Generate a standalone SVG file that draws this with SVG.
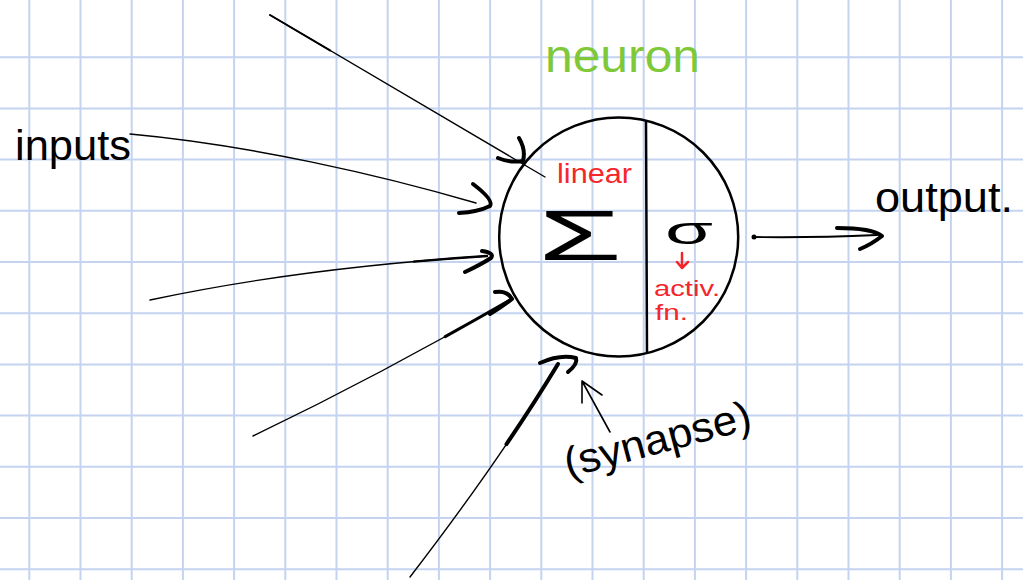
<svg xmlns="http://www.w3.org/2000/svg" width="1023" height="580" viewBox="0 0 1023 580">
<style>
.grid{stroke:#c4d3ef;stroke-width:2;fill:none}
.ln{stroke:#000;fill:none;stroke-linecap:round;stroke-linejoin:round}
.thin{stroke-width:1.4}
.thick{stroke-width:3}
.head{stroke-width:4}
.txt{font-family:"Liberation Sans",Arial,sans-serif;fill:#000}
.red{fill:#f5262b}
.green{fill:#7fc83a}
</style>
<rect width="1023" height="580" fill="#ffffff"/>
<path class="grid" d="M29.3 0V580M80.5 0V580M131.7 0V580M182.9 0V580M234.1 0V580M285.3 0V580M336.5 0V580M387.7 0V580M438.9 0V580M490.1 0V580M541.3 0V580M592.5 0V580M643.7 0V580M694.9 0V580M746.1 0V580M797.3 0V580M848.5 0V580M899.7 0V580M950.9 0V580M1002.1 0V580M0 57.2H1023M0 108.4H1023M0 159.6H1023M0 210.8H1023M0 262H1023M0 313.2H1023M0 364.4H1023M0 415.6H1023M0 466.8H1023M0 518H1023M0 569.2H1023"/>

<g id="neuron">
<circle cx="618.7" cy="237" r="119.5" fill="none" stroke="#000" stroke-width="2.5"/>
<path class="ln" stroke-width="2.5" d="M646 122L647 352"/>
<text class="txt" x="538" y="260" font-size="70" textLength="84" lengthAdjust="spacingAndGlyphs">Σ</text>
<text class="txt" x="665" y="244" font-size="38" textLength="48" lengthAdjust="spacingAndGlyphs">σ</text>
<text class="txt red" x="557" y="183" font-size="28" textLength="75" lengthAdjust="spacingAndGlyphs">linear</text>
<text class="txt red" x="654" y="296" font-size="22" textLength="66" lengthAdjust="spacingAndGlyphs">activ.</text>
<text class="txt red" x="655" y="320" font-size="22" textLength="33" lengthAdjust="spacingAndGlyphs">fn.</text>
</g>

<g id="title">
<text class="txt green" x="545" y="72" font-size="46" textLength="155" lengthAdjust="spacingAndGlyphs">neuron</text>
</g>

<g id="inputs">
<text class="txt" x="15" y="160" font-size="42" textLength="116" lengthAdjust="spacingAndGlyphs">inputs</text>
</g>

<g id="output">
<text class="txt" x="875" y="212" font-size="42" textLength="138" lengthAdjust="spacingAndGlyphs">output.</text>
</g>

<g id="synapse">
<text class="txt" x="661" y="453" font-size="42" text-anchor="middle" textLength="192" lengthAdjust="spacingAndGlyphs" transform="rotate(-15 661 453)">(synapse)</text>
</g>

<g id="connectors">
<path class="ln thin" d="M270 15L545 177"/>
<path class="ln" stroke-width="2" d="M270 15L330 50.4"/>
<path class="ln head" d="M519 138Q526 150 523 161Q510 163 498 158"/>

<path class="ln thin" d="M130 134C250 145 380 175 476 203"/>
<path class="ln head" d="M473 184Q494 200 490 206Q478 212 459 213"/>

<path class="ln thin" d="M150 300Q300 268 487 256"/>
<path class="ln" stroke-width="2.4" d="M413.7 261.6Q449.6 258.4 487 256"/>
<path class="ln head" d="M482 251Q495 253 491 258Q480 265 465 272"/>

<path class="ln thin" d="M253 436Q380 375 510 300"/>
<path class="ln thick" d="M445.2 336.6Q477.5 318.75 510 300"/>
<path class="ln head" d="M495 292Q507 290 512 299Q502 307 490 314"/>

<path class="ln thin" d="M410 577Q500 460 558 364"/>
<path class="ln" stroke-width="4" d="M506.5 444.1Q534.8 402.4 558 364"/>
<path class="ln head" d="M540 363Q560 354 576 358Q578 364 568 372"/>

<path class="ln" stroke-width="1.6" d="M610 432L582 381M582 403L582 381L602 395"/>

<path class="ln" stroke-width="1.8" d="M753 237Q810 238 877 235"/>
<circle cx="754" cy="237" r="2.5" fill="#000"/>
<path class="ln head" d="M837 228Q872 228 882 236Q872 244 860 249"/>

<path fill="none" stroke="#f5262b" stroke-width="2.5" stroke-linecap="round" stroke-linejoin="round" d="M682 253L682 267M677 262L682 268L688 262"/>
</g>
</svg>
